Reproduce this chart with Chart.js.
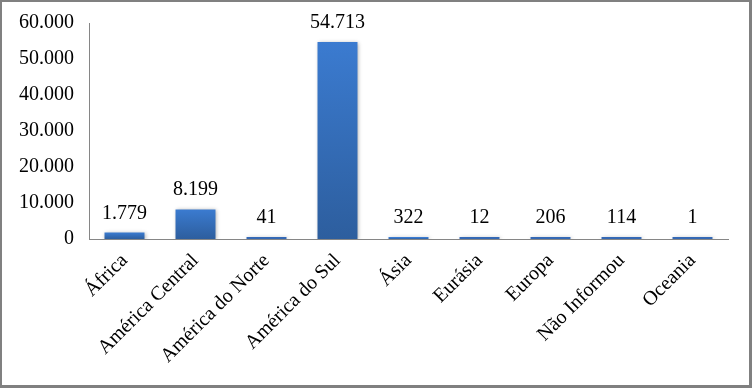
<!DOCTYPE html>
<html>
<head>
<meta charset="utf-8">
<script src="https://cdn.jsdelivr.net/npm/chart.js@4.4.1/dist/chart.umd.min.js"></script>
<style>
  html, body { margin: 0; padding: 0; background: #fff; }
  #frame {
    position: relative;
    width: 752px; height: 388px;
    box-sizing: border-box;
    border-style: solid;
    border-color: #808080;
    border-width: 2px 3px 3px 2px;
    background: #fff;
  }
  #frame canvas { display: block; }
</style>
</head>
<body>
<div id="frame"><canvas id="regionChart" width="747" height="383"></canvas></div>
<script>
// regions and how many records came from each
const categories = ['África', 'América Central', 'América do Norte', 'América do Sul', 'Ásia', 'Eurásia', 'Europa', 'Não Informou', 'Oceania'];
const counts = [1779, 8199, 41, 54713, 322, 12, 206, 114, 1];
const yMax = 60000;
const yStep = 10000;

const serif = "'Liberation Serif', 'Times New Roman', serif";

// pt-BR style thousands separator, done by hand so it doesn't depend on ICU
function fmt(n) {
  return String(n).replace(/\B(?=(\d{3})+(?!\d))/g, '.');
}

function barFill(context) {
  const chart = context.chart;
  if (!chart.chartArea || context.type !== 'data') return '#3569b5';
  const y = chart.scales.y;
  const top = y.getPixelForValue(context.parsed.y);
  const base = y.getPixelForValue(0);
  if (!isFinite(top) || base - top < 1) return '#3569b5';
  const g = chart.ctx.createLinearGradient(0, top, 0, base);
  g.addColorStop(0, '#3b7bd0');
  g.addColorStop(1, '#2d5e9e');
  return g;
}

// soft drop shadow behind the bars
const barShadow = {
  id: 'barShadow',
  beforeDatasetsDraw(chart) {
    const ctx = chart.ctx;
    ctx.save();
    ctx.shadowColor = 'rgba(0,0,0,0.35)';
    ctx.shadowBlur = 4;
    ctx.shadowOffsetX = 1;
    ctx.shadowOffsetY = 1;
  },
  afterDatasetsDraw(chart) {
    chart.ctx.restore();
  }
};

// numbers written above each bar
const valueLabels = {
  id: 'valueLabels',
  afterDatasetsDraw(chart) {
    const ctx = chart.ctx;
    const meta = chart.getDatasetMeta(0);
    ctx.save();
    ctx.font = '20px ' + serif;
    ctx.fillStyle = '#000';
    ctx.textAlign = 'center';
    ctx.textBaseline = 'alphabetic';
    meta.data.forEach((bar, i) => {
      ctx.fillText(fmt(counts[i]), bar.x, bar.y - 14);
    });
    ctx.restore();
  }
};

const ctx = document.getElementById('regionChart').getContext('2d');
new Chart(ctx, {
  type: 'bar',
  data: {
    labels: categories,
    datasets: [{
      data: counts,
      backgroundColor: barFill,
      borderWidth: 0,
      barPercentage: 0.563,
      categoryPercentage: 1,
      minBarLength: 2
    }]
  },
  options: {
    responsive: false,
    animation: false,
    devicePixelRatio: 1,
    layout: { padding: { top: 21, right: 21, left: 0, bottom: 0 } },
    plugins: {
      legend: { display: false },
      tooltip: { enabled: false }
    },
    scales: {
      x: {
        grid: { display: false, drawTicks: false },
        border: { display: true, color: '#868686', width: 1 },
        ticks: {
          color: '#000',
          font: { family: serif, size: 20 },
          maxRotation: 45,
          minRotation: 45,
          padding: 10,
          autoSkip: false
        },
        afterFit(scale) {
          scale.height = 146;
          scale.paddingLeft = 0;
          scale.paddingRight = 0;
        }
      },
      y: {
        min: 0,
        max: yMax,
        grid: { display: false, drawTicks: false },
        border: { display: true, color: '#868686', width: 1 },
        ticks: {
          stepSize: yStep,
          color: '#000',
          font: { family: serif, size: 20 },
          padding: 15,
          callback: v => fmt(v)
        },
        afterFit(scale) {
          scale.width = 87;
          scale.paddingTop = 0;
          scale.paddingBottom = 0;
        }
      }
    }
  },
  plugins: [barShadow, valueLabels]
});
</script>
</body>
</html>
